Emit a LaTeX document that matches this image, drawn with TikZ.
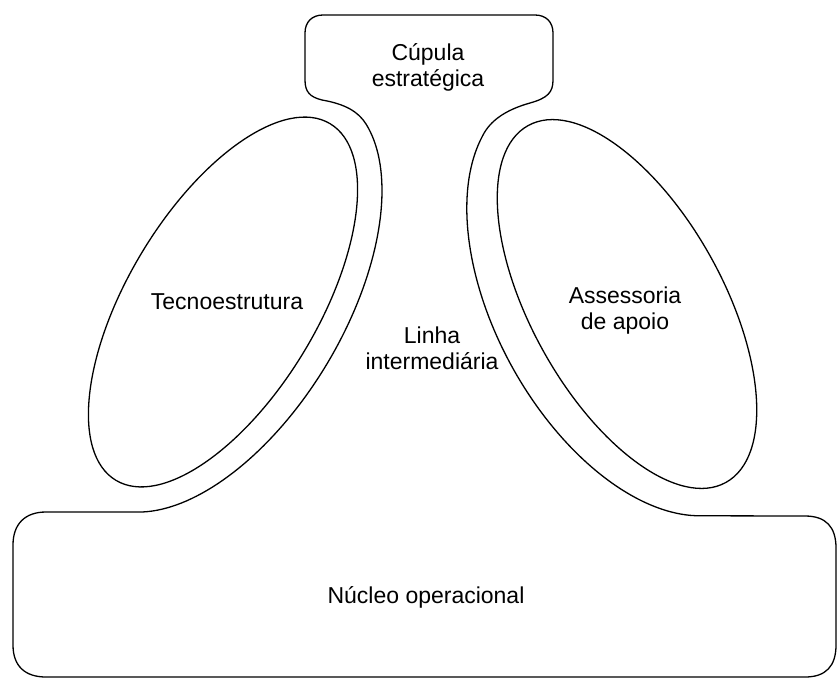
\documentclass[tikz,border=0pt]{standalone}
\usepackage{fontspec}
\setmainfont{Liberation Sans}
\begin{document}
\begin{tikzpicture}[x=1pt,y=-1pt,
  outline/.style={draw=black, line width=1.3pt, line join=round},
  lbl/.style={inner sep=0pt, anchor=base, font=\fontsize{23}{26}\selectfont}]
\useasboundingbox (0,0) rectangle (837,678);
% whole outer contour: strategic apex, middle line, operating core
\draw[outline] (305,33) .. controls (305,22) and (312,15) .. (323,15)
  -- (535,15) .. controls (546,15) and (553,22) .. (553,33)
  -- (553,80) .. controls (553,92) and (548,98) .. (530,103)
  .. controls (505,110) and (490,121) .. (482.6,135.8)
  -- plot[domain=160:17.45, samples=80, variable=\t]
     ({627+231*cos(\t)*0.4848-131*sin(\t)*0.8746},{304+231*cos(\t)*0.8746+131*sin(\t)*0.4848})
  -- (805,516) .. controls (826,516) and (836,527) .. (836,548)
  -- (836,645) .. controls (836,666) and (826,677) .. (805,677)
  -- (46,677) .. controls (25,677) and (13,666) .. (13,645)
  -- (13,545) .. controls (13,524) and (25,512) .. (46,512)
  -- (138.7,512)
  -- plot[domain=162.7:15, samples=80, variable=\t]
     ({223+234*cos(\t)*0.5150+121*sin(\t)*0.8572},{302-234*cos(\t)*0.8572+121*sin(\t)*0.5150})
  .. controls (358.5,111.6) and (345,104) .. (322,100)
  .. controls (310,97) and (305,92) .. (305,80)
  -- cycle;
% technostructure and support staff
\draw[outline, rotate around={59:(223,302)}] (223,302) ellipse[x radius=208, y radius=95];
\draw[outline, rotate around={-61:(627,304)}] (627,304) ellipse[x radius=204, y radius=96];
% labels
\node[lbl] (cupula) at (428,60) {\begin{tabular}[t]{@{}c@{}}Cúpula\\estratégica\end{tabular}};
\node[lbl] (tecno) at (227,309) {Tecnoestrutura};
\node[lbl] (linha) at (432,343) {\begin{tabular}[t]{@{}c@{}}Linha\\intermediária\end{tabular}};
\node[lbl] (assess) at (625,303) {\begin{tabular}[t]{@{}c@{}}Assessoria\\de apoio\end{tabular}};
\node[lbl] (nucleo) at (426,603) {Núcleo operacional};
\end{tikzpicture}
\end{document}
